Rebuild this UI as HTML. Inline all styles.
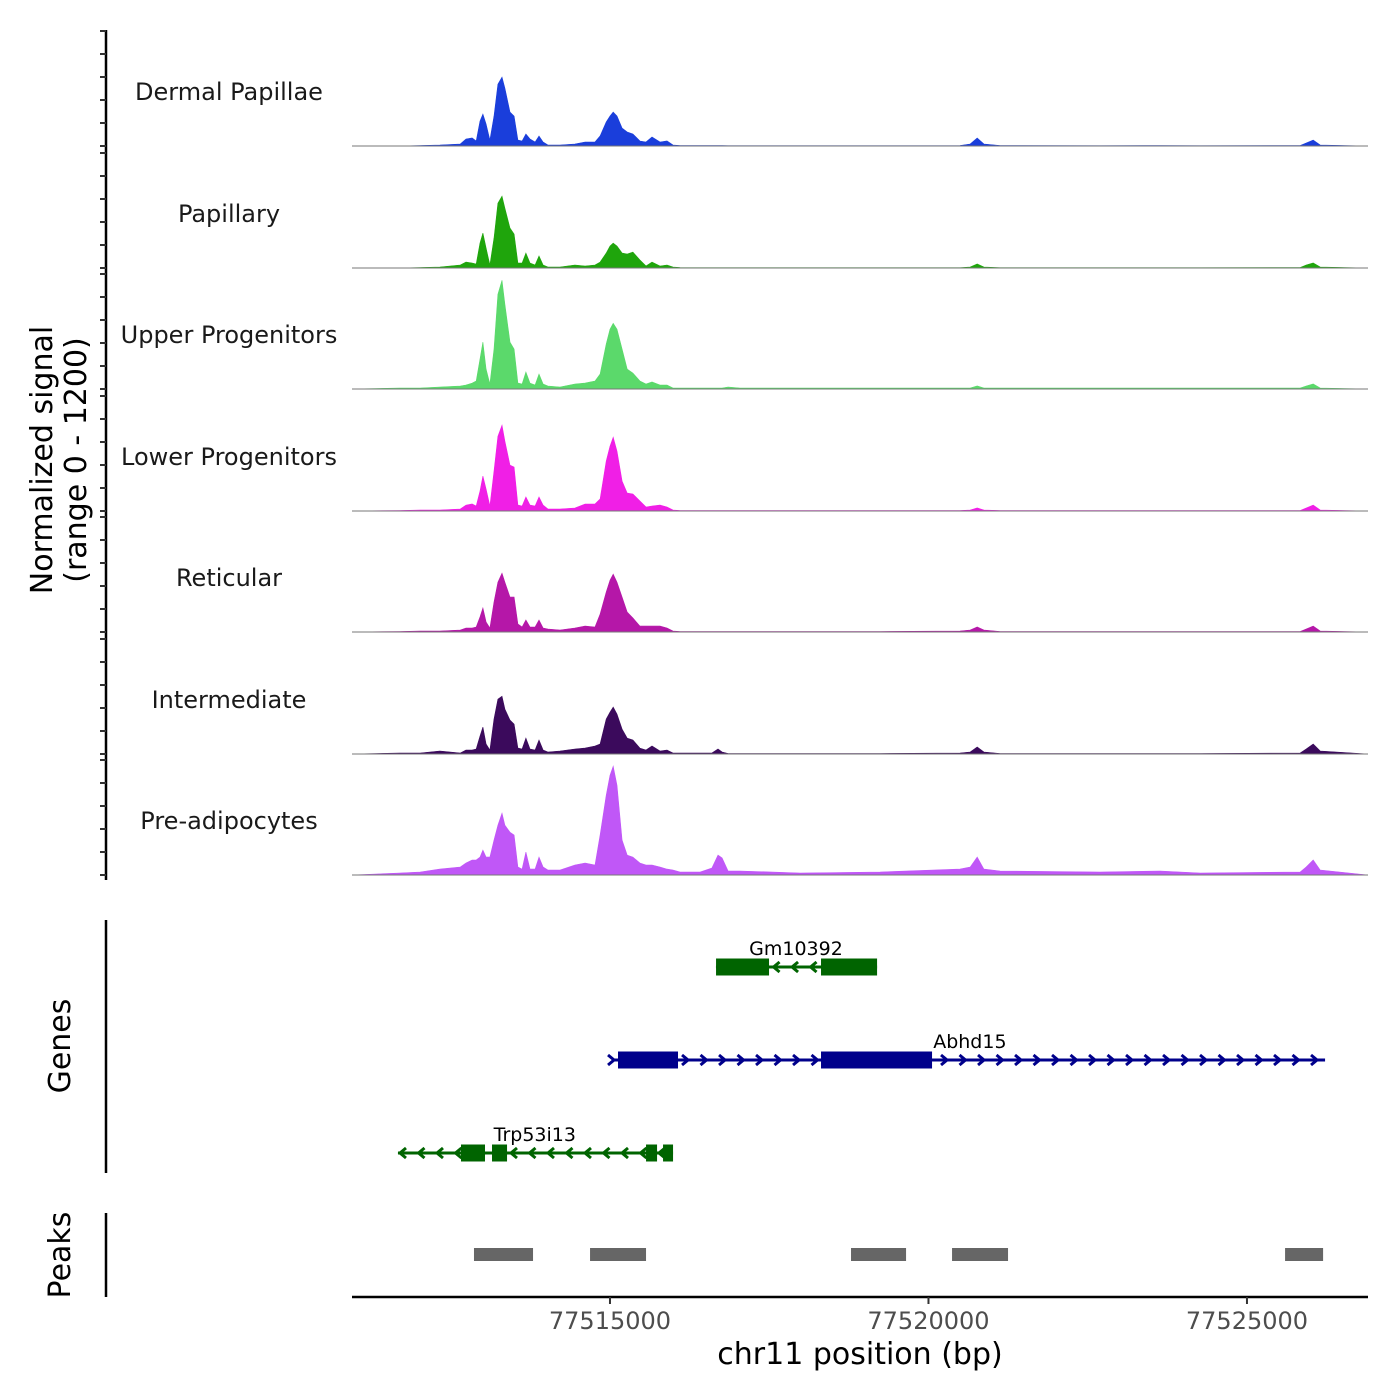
<!DOCTYPE html>
<html><head><meta charset="utf-8"><style>
html,body{margin:0;padding:0;background:#fff;}
svg{display:block;font-family:"DejaVu Sans","Liberation Sans",sans-serif;}
</style></head><body>
<svg id="chart" width="1400" height="1400" viewBox="0 0 1400 1400" xmlns="http://www.w3.org/2000/svg"></svg>
<script>
// ---- data ----
const positions = [77510950,77511700,77512020,77512330,77512650,77512740,77512835,77512900,77512960,77513005,77513055,77513115,77513180,77513240,77513305,77513350,77513430,77513495,77513555,77513620,77513680,77513745,77513825,77513885,77513950,77514025,77514215,77514450,77514610,77514765,77514845,77514940,77515000,77515050,77515110,77515190,77515270,77515360,77515470,77515565,77515660,77515785,77515895,77515990,77516100,77516415,77516600,77516695,77516760,77516855,77517040,77517985,77519240,77520495,77520655,77520765,77520870,77521125,77522695,77523635,77524265,77525835,77525930,77526040,77526150,77526900];
const groups = ["Dermal Papillae","Papillary","Upper Progenitors","Lower Progenitors","Reticular","Intermediate","Pre-adipocytes"];
const dermalPapillae = [0,0,5,10,21,73,83,52,260,333,229,62,312,645,718,603,354,312,62,52,125,73,42,104,42,10,10,21,42,42,104,250,312,354,312,187,146,125,52,42,94,42,52,10,5,5,5,5,5,3,3,3,3,5,21,83,21,5,3,5,3,5,31,62,10,0];
const papillary = [0,0,5,10,31,62,52,42,260,364,208,31,312,676,749,624,416,354,52,52,156,52,31,125,31,10,10,31,21,31,62,156,229,260,229,156,146,166,83,21,62,21,31,10,5,3,3,3,3,3,3,3,3,3,10,42,10,3,3,3,3,5,31,52,10,0];
const upperProgenitors = [0,10,10,21,31,42,62,83,312,489,208,52,416,988,1134,884,489,416,62,52,177,62,42,156,52,31,21,52,62,83,156,468,624,686,624,416,208,166,83,52,73,42,42,10,10,10,10,10,10,21,10,10,10,10,10,31,10,10,10,10,10,10,31,52,10,0];
const lowerProgenitors = [0,5,10,10,21,62,73,52,208,364,229,52,416,780,894,728,478,458,62,52,146,62,52,146,62,21,21,31,73,73,125,520,676,770,624,312,187,177,104,42,52,62,42,10,5,5,5,5,5,5,5,5,5,5,10,31,10,5,5,5,5,5,31,62,10,0];
const reticular = [0,5,10,10,21,42,42,52,156,250,104,42,312,520,614,520,364,364,83,52,125,52,52,125,42,31,21,42,62,52,187,416,541,603,520,364,208,146,62,62,62,62,42,10,5,5,5,5,5,5,5,5,5,10,21,52,21,5,5,5,5,5,31,62,10,0];
const intermediate = [0,10,10,31,10,42,42,52,187,281,104,42,364,572,603,468,354,312,62,52,166,52,42,146,42,21,31,52,62,83,104,364,437,489,416,260,166,146,62,42,83,31,42,10,10,10,10,52,21,5,5,5,5,10,21,73,21,5,5,5,5,10,52,104,31,0];
const preAdipocytes = [0,21,31,62,83,125,156,156,187,260,187,187,364,520,645,520,447,416,83,62,239,62,62,187,83,52,52,104,125,104,416,832,1040,1134,936,364,208,187,125,104,104,83,62,52,31,31,73,208,177,42,42,21,31,62,83,187,62,42,31,42,21,31,83,156,52,0];
const xTicks = [77515000,77520000,77525000];
const xTickLabels = ["77515000","77520000","77525000"];
const genes = ["Gm10392","Abhd15","Trp53i13"];
const geneStart = [77516665,77515032,77511672];
const geneEnd = [77519193,77526226,77515990];
const geneStrand = [-1,1,-1];
const geneExonStarts = [[77516665,77518313],[77515126,77518313],[77512661,77513148,77515566,77515833]];
const geneExonEnds = [[77517497,77519193],[77516068,77520056],[77513038,77513384,77515739,77515990]];
const geneLabelPos = [77517920,77520650,77513820];
const peakStarts = [77512865,77514687,77518784,77520370,77525598];
const peakEnds = [77513792,77515566,77519648,77521249,77526195];

// ---- scales ----
const colors = ["#1a3edb","#1fa50c","#5bd96b","#f01fe6","#b517a8","#3b0a5c","#c057f7"];
const series = [dermalPapillae,papillary,upperProgenitors,lowerProgenitors,reticular,intermediate,preAdipocytes];
const X0=352, X1=1368, D0=77510950, D1=77526900;
function x(bp){return X0+(bp-D0)/(D1-D0)*(X1-X0);}
const baselines=[146,268,389,511,632,754,875];
const TH=115, YMAX=1200;
function y(v,i){return baselines[i]-v/YMAX*TH;}

const svg=document.getElementById('chart');
const NS='http://www.w3.org/2000/svg';
function mk(tag,attrs,parent){const e=document.createElementNS(NS,tag);for(const k in attrs)e.setAttribute(k,attrs[k]);(parent||svg).appendChild(e);return e;}

// left axis
const ax=mk('line',{x1:106,y1:30,x2:106,y2:880,stroke:'#000','stroke-width':2.5});


for(let i=0;i<7;i++){
  for(let k=0;k<=5;k++){
    const yy=baselines[i]-k*TH/5;
    const t=mk('line',{x1:100,y1:yy,x2:106,y2:yy,stroke:'#333','stroke-width':2});
    
    
  }
}
// tracks
for(let i=0;i<7;i++){
  const vals=series[i];
  let d='M'+x(positions[0]).toFixed(1)+','+baselines[i];
  for(let j=0;j<positions.length;j++){d+=' L'+x(positions[j]).toFixed(1)+','+y(vals[j],i).toFixed(1);}
  d+=' L'+x(positions[positions.length-1]).toFixed(1)+','+baselines[i]+' Z';
  const p=mk('path',{d:d,fill:colors[i],stroke:colors[i],'stroke-width':0.6});
  
  
  const bl=mk('line',{x1:X0,y1:baselines[i],x2:X1,y2:baselines[i],stroke:'#777','stroke-width':1});
  
  
  const lb=mk('text',{x:229,y:baselines[i]-46,'text-anchor':'middle','font-size':24,fill:'#1a1a1a'});
  lb.textContent=groups[i];
  
  
}
// y title
const yt=mk('text',{transform:'translate(52,460) rotate(-90)','text-anchor':'middle','font-size':30,fill:'#000'});


const ts1=mk('tspan',{x:0,dy:0},yt);ts1.textContent='Normalized signal';
const ts2=mk('tspan',{x:0,dy:34},yt);ts2.textContent='(range 0 - 1200)';

// genes panel
const gax=mk('line',{x1:106,y1:920,x2:106,y2:1173,stroke:'#000','stroke-width':2.5});


const gt=mk('text',{transform:'translate(70,1046) rotate(-90)','text-anchor':'middle','font-size':30,fill:'#000'});
gt.textContent='Genes';


const geneY=[967,1060,1153];
const geneCol=['#006400','#00008b','#006400'];
for(let g=0;g<genes.length;g++){
  const yy=geneY[g], c=geneCol[g];
  const grp=mk('g',{});
  
  
  const xs=x(geneStart[g]), xe=x(geneEnd[g]);
  mk('line',{x1:xs,y1:yy,x2:xe,y2:yy,stroke:c,'stroke-width':3},grp);
  const s=geneStrand[g];
  for(let ax2=xs+2;ax2<=xe;ax2+=18.5){
    const tip=ax2, back=ax2-s*6;
    mk('path',{d:'M'+back+','+(yy-5)+' L'+tip+','+yy+' L'+back+','+(yy+5),fill:'none',stroke:c,'stroke-width':3},grp);
  }
  for(let e=0;e<geneExonStarts[g].length;e++){
    const a=x(geneExonStarts[g][e]), b=x(geneExonEnds[g][e]);
    mk('rect',{x:a,y:yy-8.5,width:b-a,height:17,fill:c},grp);
  }
  const t=mk('text',{x:x(geneLabelPos[g]),y:yy-12,'text-anchor':'middle','font-size':19,fill:'#000'},grp);
  t.textContent=genes[g];
}
// peaks panel
const pax=mk('line',{x1:106,y1:1213,x2:106,y2:1297,stroke:'#000','stroke-width':2.5});


const pt=mk('text',{transform:'translate(70,1255) rotate(-90)','text-anchor':'middle','font-size':30,fill:'#000'});
pt.textContent='Peaks';


for(let k=0;k<peakStarts.length;k++){
  const a=x(peakStarts[k]), b=x(peakEnds[k]);
  const r=mk('rect',{x:a,y:1248,width:b-a,height:13,fill:'#666'});
  
  
}
// x axis
const xa=mk('line',{x1:X0,y1:1297,x2:X1,y2:1297,stroke:'#000','stroke-width':2.5});


for(let k=0;k<xTicks.length;k++){
  const xx=x(xTicks[k]);
  const tk=mk('line',{x1:xx,y1:1297,x2:xx,y2:1304,stroke:'#333','stroke-width':2});
  
  
  const tl=mk('text',{x:xx,y:1329,'text-anchor':'middle','font-size':24,fill:'#4d4d4d'});
  tl.textContent=xTickLabels[k];
  
  
}
const xt=mk('text',{x:860,y:1364,'text-anchor':'middle','font-size':30,fill:'#000'});
xt.textContent='chr11 position (bp)';


</script>
</body></html>
